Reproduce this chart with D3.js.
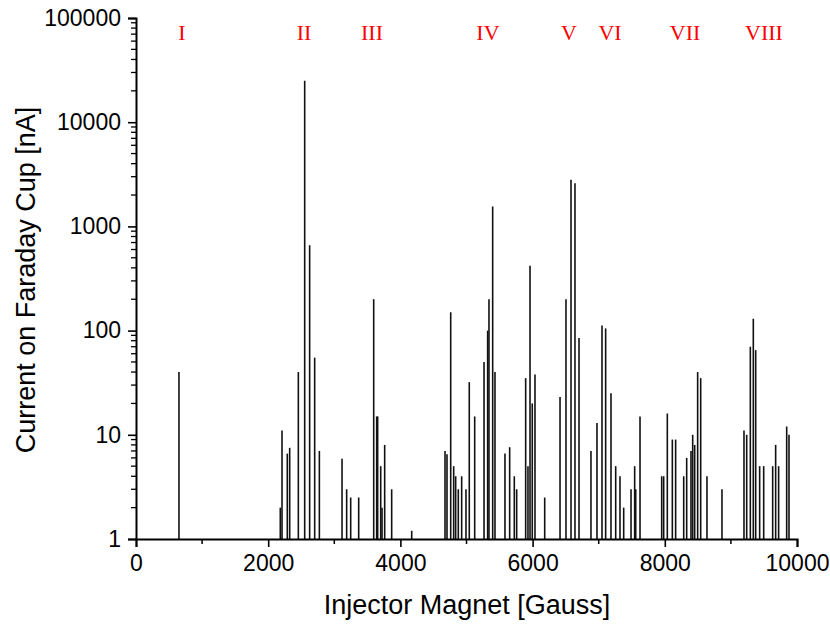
<!DOCTYPE html>
<html>
<head>
<meta charset="utf-8">
<script src="https://cdn.jsdelivr.net/npm/d3@7"></script>
<style>
  body { margin: 0; background: #fff; }
  svg { display: block; }
</style>
</head>
<body>
<svg id="chart" width="830" height="624"></svg>
<script>
// Injector magnet field (Gauss) of each peak
const fields = [650, 2183, 2209, 2289, 2325, 2456, 2552, 2627, 2703, 2774,
  3117, 3187, 3248, 3369, 3596, 3641, 3656, 3702, 3722, 3762, 3868, 4171,
  4675, 4705, 4761, 4806, 4836, 4876, 4927, 4992, 5042, 5124, 5265, 5320, 5340, 5396, 5431,
  5582, 5653, 5723, 5759, 5895, 5930, 5961, 5995, 6036, 6183, 6415, 6505, 6581, 6641, 6702,
  6883, 6974, 7050, 7105, 7186, 7257, 7322, 7378, 7489, 7544, 7560, 7625,
  7953, 7983, 8038, 8114, 8164, 8286, 8331, 8396, 8422, 8452, 8497, 8543, 8638, 8865,
  9198, 9239, 9294, 9339, 9375, 9435, 9496, 9632, 9677, 9722, 9844, 9879];
// Current on Faraday cup (nA) of each peak
const currents = [40, 2.0, 11, 6.6, 7.5, 40, 25000, 660, 55, 7,
  5.9, 3.0, 2.5, 2.5, 200, 15, 15, 5, 2, 8, 3, 1.2,
  7, 6.5, 150, 5, 4, 3, 4, 3, 32, 15, 50, 100, 200, 1550, 40,
  6.6, 7.6, 4, 3, 35, 5, 420, 20, 38, 2.5, 23, 200, 2800, 2600, 85,
  7, 13, 112, 105, 25, 5, 4, 2, 3, 5, 3, 15,
  4, 4, 16, 9, 9, 4, 6, 7, 10, 8, 40, 35, 4, 3,
  11, 10, 70, 130, 65, 5, 5, 5, 8, 5, 12, 10];
// Region labels and their positions (Gauss)
const regionNames = ["I", "II", "III", "IV", "V", "VI", "VII", "VIII"];
const regionPos = [696, 2542, 3570, 5325, 6551, 7171, 8306, 9501];
const xTicks = [0, 2000, 4000, 6000, 8000, 10000];
const yTicks = [1, 10, 100, 1000, 10000, 100000];

const svg = d3.select("#chart");
const mLeft = 136, mRight = 797, mTop = 18, mBottom = 539;

const x = d3.scaleLinear().domain([0, 10000]).range([mLeft, mRight]);
const y = d3.scaleLog().domain([1, 100000]).range([mBottom, mTop]);

// bars
svg.append("g").selectAll("line").data(fields).join("line")
  .attr("x1", (d) => x(d)).attr("x2", (d) => x(d))
  .attr("y1", y(1))
  .attr("y2", (d, i) => y(currents[i]))
  .attr("stroke", "#111").attr("stroke-width", 1.6);

// x axis
const xMinor = d3.range(1000, 10000, 2000);
const gx = svg.append("g").attr("transform", `translate(0,${mBottom})`);
gx.call(d3.axisBottom(x).tickValues(xTicks).tickFormat(d3.format("d")).tickSize(8).tickPadding(7));
gx.selectAll(".minor").data(xMinor).join("line").attr("class", "minor")
  .attr("x1", (d) => x(d)).attr("x2", (d) => x(d)).attr("y1", 0).attr("y2", 5)
  .attr("stroke", "#000").attr("stroke-width", 1.5);

// y axis
const yMinor = [];
for (let e = 0; e < 5; e++) for (let m = 2; m <= 9; m++) yMinor.push(m * Math.pow(10, e));
const gy = svg.append("g").attr("transform", `translate(${mLeft},0)`);
gy.call(d3.axisLeft(y).tickValues(yTicks).tickFormat(d3.format("d")).tickSize(8).tickPadding(7));
gy.selectAll(".minor").data(yMinor).join("line").attr("class", "minor")
  .attr("x1", -5).attr("x2", 0).attr("y1", (d) => y(d)).attr("y2", (d) => y(d))
  .attr("stroke", "#000").attr("stroke-width", 1.3);

[gx, gy].forEach((g) => {
  g.select(".domain").attr("stroke", "#000").attr("stroke-width", 2);
  g.selectAll(".tick line").attr("stroke", "#000").attr("stroke-width", 1.6);
  g.selectAll(".tick text").attr("fill", "#000")
    .style("font-family", "'Liberation Sans', Arial, sans-serif").style("font-size", "23px");
});
gx.selectAll(".tick text").attr("dy", "0.72em");

// axis titles
svg.append("text").attr("x", 467).attr("y", 614)
  .attr("text-anchor", "middle")
  .style("font-family", "'Liberation Sans', Arial, sans-serif").style("font-size", "27px")
  .text("Injector Magnet [Gauss]");
svg.append("text").attr("transform", `translate(35,280) rotate(-90)`)
  .attr("text-anchor", "middle")
  .style("font-family", "'Liberation Sans', Arial, sans-serif").style("font-size", "27px")
  .text("Current on Faraday Cup [nA]");

// region labels
svg.append("g").selectAll("text").data(regionNames).join("text")
  .attr("x", (d, i) => x(regionPos[i])).attr("y", 40)
  .attr("text-anchor", "middle")
  .attr("fill", "#ff0000")
  .style("font-family", "'Liberation Serif', 'Times New Roman', serif").style("font-size", "22px")
  .text((d) => d);
</script>
</body>
</html>
